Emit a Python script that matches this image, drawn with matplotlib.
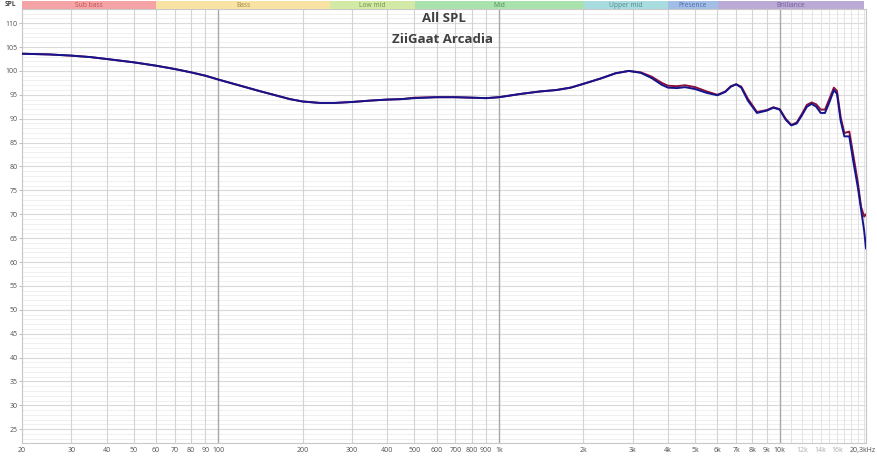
import matplotlib
matplotlib.use("Agg")
import matplotlib.pyplot as plt
from matplotlib.ticker import FixedLocator, NullFormatter
from matplotlib.transforms import ScaledTranslation
import numpy as np

# ---------------- data ----------------
freq = [20, 25, 30, 35, 40, 50, 60, 70, 80, 90, 100, 120, 140, 160, 180, 200, 230, 260,
        300, 350, 400, 450, 500, 600, 700, 800, 900, 1000, 1200, 1400, 1600, 1800, 2000,
        2300, 2600, 2900, 3200, 3500, 3800, 4000, 4300, 4600, 5000, 5500, 6000, 6400,
        6700, 7000, 7300, 7700, 8300, 9000, 9500, 10000, 10500, 11000, 11500, 12000,
        12500, 13000, 13500, 14000, 14500, 15000, 15600, 16000, 16500, 17000, 17700,
        18300, 19000, 19500, 20000, 20300]

spl_blue = [103.6, 103.45, 103.2, 102.9, 102.5, 101.8, 101.1, 100.4, 99.7, 99.0, 98.2,
            96.9, 95.8, 94.9, 94.1, 93.6, 93.3, 93.3, 93.5, 93.8, 94.0, 94.1, 94.3, 94.5,
            94.5, 94.4, 94.3, 94.5, 95.2, 95.7, 96.0, 96.5, 97.3, 98.4, 99.5, 100.0, 99.6,
            98.5, 97.1, 96.5, 96.4, 96.6, 96.2, 95.4, 94.9, 95.6, 96.7, 97.2, 96.5, 93.8,
            91.2, 91.7, 92.3, 91.9, 89.8, 88.6, 89.0, 90.7, 92.5, 93.1, 92.5, 91.2, 91.2,
            93.3, 96.0, 95.2, 89.5, 86.3, 86.3, 81.0, 75.5, 71.0, 66.5, 62.8]

spl_red = [103.6, 103.45, 103.2, 102.9, 102.5, 101.8, 101.1, 100.4, 99.7, 99.0, 98.2,
           96.9, 95.8, 94.9, 94.1, 93.6, 93.3, 93.3, 93.5, 93.8, 94.0, 94.1, 94.4, 94.5,
           94.5, 94.4, 94.3, 94.5, 95.2, 95.7, 96.0, 96.5, 97.3, 98.4, 99.5, 100.0, 99.7,
           98.8, 97.5, 96.9, 96.8, 97.0, 96.6, 95.7, 95.0, 95.7, 96.8, 97.2, 96.7, 94.2,
           91.4, 91.8, 92.4, 92.0, 90.0, 88.7, 89.2, 91.0, 92.9, 93.4, 93.0, 91.9, 91.9,
           94.0, 96.5, 95.8, 90.2, 87.0, 87.3, 82.3, 76.5, 71.5, 69.5, 70.0]

bands = ["Sub bass", "Bass", "Low mid", "Mid", "Upper mid", "Presence", "Brilliance"]
band_edges = [20, 60, 250, 500, 2000, 4000, 6000, 20000]
band_colors = ["#F4A3A6", "#F8E2A4", "#D2EAA6", "#A9E2AC", "#A9DCDE", "#A3BEE6", "#BBA9D6"]
band_text = ["#C05050", "#A08848", "#6E9048", "#4E8E50", "#4E8A8E", "#4E6AA8", "#6E5A96"]

xtick_vals = [20, 30, 40, 50, 60, 70, 80, 90, 100, 200, 300, 400, 500, 600, 700, 800, 900,
              1000, 2000, 3000, 4000, 5000, 6000, 7000, 8000, 9000, 10000, 12000, 14000,
              16000, 20300]
xtick_labels = ["20", "30", "40", "50", "60", "70", "80", "90", "100", "200", "300", "400",
                "500", "600", "700", "800", "900", "1k", "2k", "3k", "4k", "5k", "6k", "7k",
                "8k", "9k", "10k", "12k", "14k", "16k", "20,3kHz"]
ytick_vals = list(range(25, 111, 5))

title1 = "All SPL"
title2 = "ZiiGaat Arcadia"

# ---------------- figure ----------------
W, H = 877, 458
fig = plt.figure(figsize=(W / 100, H / 100), dpi=100)
fig.patch.set_facecolor("white")

FONT = "Open Sans"

def fx(px):
    return px / W

def fy(py):
    return 1 - py / H

ax = fig.add_axes([fx(22), fy(443.3), fx(866) - fx(22), fy(9.3) - fy(443.3)])
ax.set_xscale("log")
ax.set_xlim(20, 20300)
ax.set_ylim(22.05, 112.9)

# grid lines
minor_h = [v for v in range(23, 113) if v % 5 != 0]
for v in minor_h:
    ax.axhline(v, color="#EEEEEE", lw=0.6, zorder=0)
for v in range(25, 113, 5):
    ax.axhline(v, color="#D9D9D9", lw=0.8, zorder=0)

vlines = list(range(20, 100, 10)) + list(range(100, 1000, 100)) + list(range(1000, 10000, 1000))
for v in vlines:
    if v in (100, 1000):
        continue
    ax.axvline(v, color="#D4D4D4", lw=0.8, zorder=0)
for v in range(11000, 20001, 1000):
    ax.axvline(v, color="#E2E2E2", lw=0.7, zorder=0)
for v in (100, 1000, 10000):
    ax.axvline(v, color="#A8A8A8", lw=1.0, zorder=0)

ax.plot(freq, spl_red, color="#8A0F3A", lw=1.4, zorder=3, solid_capstyle="round")
ax.plot(freq, spl_blue, color="#14148E", lw=1.4, zorder=4, solid_capstyle="round")

for s in ax.spines.values():
    s.set_color("#C8C8C8")
    s.set_linewidth(0.8)

ax.xaxis.set_major_locator(FixedLocator(xtick_vals))
ax.xaxis.set_minor_locator(FixedLocator([]))
ax.xaxis.set_minor_formatter(NullFormatter())
ax.set_xticklabels(xtick_labels)
ax.set_yticks(ytick_vals)
ax.tick_params(axis="x", length=0, pad=3, labelsize=5, labelcolor="#505050")
ax.tick_params(axis="y", length=2, width=0.6, color="#B0B0B0", pad=1, labelsize=5,
               labelcolor="#505050")
for lab in ax.get_xticklabels() + ax.get_yticklabels():
    lab.set_fontfamily(FONT)
for lab in ax.get_xticklabels():
    if lab.get_text() in ("12k", "14k", "16k"):
        lab.set_color("#ABABAB")
    if lab.get_text() == "20,3kHz":
        lab.set_horizontalalignment("right")
        lab.set_transform(lab.get_transform() + ScaledTranslation(10 / 100, 0, fig.dpi_scale_trans))

# title
fig.text(fx(443.5), fy(19), title1, ha="center", va="center", fontsize=9.5,
         fontweight="bold", color="#404040", family=FONT)
fig.text(fx(443), fy(39.5), title2, ha="center", va="center", fontsize=9.5,
         fontweight="bold", color="#404040", family=FONT)

# band bar
bax = fig.add_axes([fx(22), fy(8.5), fx(864.5) - fx(22), fy(1) - fy(8.5)])
bax.set_xscale("log")
bax.set_xlim(20, 20000)
bax.set_ylim(0, 1)
bax.axis("off")
for i, name in enumerate(bands):
    lo, hi = band_edges[i], band_edges[i + 1]
    bax.axvspan(lo, hi, color=band_colors[i], lw=0)
    mid = np.sqrt(lo * hi)
    bax.text(mid, 0.45, name, ha="center", va="center", fontsize=4.8,
             color=band_text[i], family=FONT)

fig.text(fx(10), fy(5), "SPL", ha="center", va="center", fontsize=4.8,
         color="#404040", family=FONT, fontweight="bold")

fig.savefig("out.png", dpi=100)
